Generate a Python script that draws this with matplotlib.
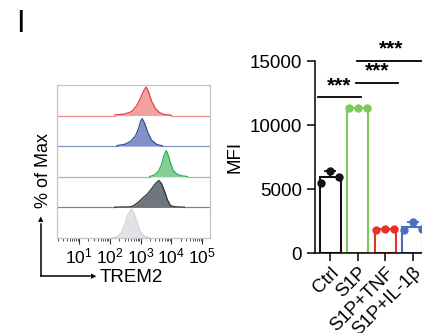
import numpy as np
import matplotlib
matplotlib.use("Agg")
import matplotlib.pyplot as plt

plt.rcParams['font.family'] = ['Liberation Sans', 'DejaVu Sans']
plt.rcParams['mathtext.fontset'] = 'custom'
plt.rcParams['mathtext.rm'] = 'Liberation Sans'
plt.rcParams['mathtext.it'] = 'Liberation Sans'

# ---- flow histograms (x in log10 units, height as fraction of lane) ----
gray_x = [2.10, 2.26, 2.39, 2.48, 2.58, 2.70, 2.77, 2.87, 2.97, 3.10, 3.29]
gray_y = [0.01, 0.06, 0.20, 0.45, 0.75, 0.95, 0.85, 0.55, 0.25, 0.07, 0.01]
dark_x = [2.16, 2.65, 2.77, 2.90, 3.06, 3.23, 3.35, 3.48, 3.59, 3.68, 3.77, 3.87, 3.97, 4.13, 4.42]
dark_y = [0.01, 0.02, 0.06, 0.15, 0.30, 0.45, 0.60, 0.78, 0.88, 0.78, 0.55, 0.25, 0.06, 0.02, 0.01]
green_x = [3.29, 3.45, 3.58, 3.68, 3.76, 3.83, 3.90, 3.97, 4.06, 4.19, 4.35, 4.52]
green_y = [0.01, 0.06, 0.18, 0.40, 0.70, 0.86, 0.70, 0.45, 0.20, 0.08, 0.03, 0.01]
blue_x = [2.23, 2.48, 2.68, 2.84, 2.94, 3.00, 3.05, 3.13, 3.23, 3.35, 3.52, 3.71]
blue_y = [0.02, 0.06, 0.16, 0.35, 0.60, 0.82, 0.90, 0.75, 0.45, 0.20, 0.06, 0.01]
red_x = [2.16, 2.48, 2.71, 2.87, 3.00, 3.10, 3.18, 3.26, 3.35, 3.48, 3.61, 3.77, 4.00]
red_y = [0.02, 0.05, 0.13, 0.32, 0.58, 0.81, 0.93, 0.77, 0.48, 0.23, 0.10, 0.03, 0.01]

hists = [(gray_x, gray_y, '#e2e2e6', '#d4d4d8'),
         (dark_x, dark_y, '#6f767e', '#2e3238'),
         (green_x, green_y, '#86cc96', '#2fb14e'),
         (blue_x, blue_y, '#8391c9', '#33509f'),
         (red_x, red_y, '#f0a2a2', '#e5413f')]

# ---- MFI bar chart ----
groups = ['Ctrl', 'S1P', 'S1P+TNF', 'S1P+IL-1β']
mfi = [[5500, 6400, 5900],
       [11300, 11350, 11350],
       [1830, 1850, 1860],
       [1820, 2450, 1850]]
bar_colors = ['#111111', '#7cc85a', '#e8302a', '#4a6fc0']
brackets = [(-0.44, 1.13, 12150, 0.34),
            (0.95, 2.47, 13250, 1.72),
            (0.98, 3.6, 15000, 2.2)]

fig = plt.figure(figsize=(4.22, 3.33), dpi=100)

# histogram panel
ax1 = fig.add_axes([0.135, 0.285, 0.363, 0.46])
xlo, xhi = 0.28, 5.26
for i, (hx, hy, fc, ec) in enumerate(hists):
    hx = np.array(hx)
    hy = np.array(hy) + i
    ax1.fill_between(hx, i, hy, color=fc, lw=0)
    ax1.plot(hx, hy, color=ec, lw=0.9)
    ax1.plot([xlo, hx[0]], [i, i], color=ec, lw=0.9, alpha=0.6)
    ax1.plot([hx[-1], xhi], [i, i], color=ec, lw=0.9, alpha=0.6)
ax1.set_xlim(xlo, xhi)
ax1.set_ylim(0, 5)
ax1.set_yticks([])
for s in ax1.spines.values():
    s.set_color('#c4c4c4')
    s.set_linewidth(0.9)
ax1.set_xticks([1, 2, 3, 4, 5])
ax1.set_xticklabels(['$10^{%d}$' % d for d in range(1, 6)], fontsize=12.5)
minor = [np.log10(k) + d for d in range(0, 6) for k in range(2, 10)]
ax1.set_xticks([m for m in minor if xlo < m < xhi], minor=True)
ax1.tick_params(axis='x', which='major', length=4, width=0.8, color='#333333', pad=2)
ax1.tick_params(axis='x', which='minor', length=2.5, width=0.6, color='#333333')

# axis arrows
fig.add_artist(plt.Line2D([41 / 422, 41 / 422], [1 - 276 / 333, 1 - 224 / 333],
                          color='black', lw=1.1))
fig.add_artist(plt.Line2D([41 / 422, 90 / 422], [1 - 276 / 333, 1 - 276 / 333],
                          color='black', lw=1.1))
fig.text(41 / 422, 1 - 219 / 333, '▲', ha='center', va='center', fontsize=5,
         family='DejaVu Sans')
fig.text(94 / 422, 1 - 276 / 333, '▶', ha='center', va='center', fontsize=5,
         family='DejaVu Sans')
fig.text(43 / 422, 1 - 171 / 333, '% of Max', rotation=90, ha='center', va='center',
         fontsize=13)
fig.text(100 / 422, 1 - 277 / 333, 'TREM2', ha='left', va='center', fontsize=13.5)
fig.text(20 / 422, 1 - 24 / 333, 'I', ha='center', va='center', fontsize=22)

# bar panel
ax2 = fig.add_axes([315 / 422, 1 - 253 / 333, 113 / 422, 192 / 333])
xs = np.arange(len(groups))
offsets = [-0.32, 0.0, 0.32]
for i, vals in enumerate(mfi):
    vals = np.array(vals, dtype=float)
    m, sd = vals.mean(), vals.std(ddof=1)
    ax2.bar(xs[i], m, width=0.76, facecolor='white', edgecolor=bar_colors[i],
            linewidth=1.5, zorder=2)
    ax2.errorbar(xs[i], m, yerr=[[0], [sd]], color=bar_colors[i], capsize=4.5,
                 elinewidth=1.3, capthick=1.3, zorder=3)
    ax2.plot(xs[i] + np.array(offsets), vals, 'o', color=bar_colors[i], ms=5,
             zorder=4, clip_on=False)
for x0, x1, y, xt in brackets:
    ax2.plot([x0, x1], [y, y], color='black', lw=1.3, clip_on=False)
    ax2.text(xt, y + 200, '***', ha='center', va='bottom', fontsize=15,
             fontweight='bold', clip_on=False)
ax2.set_xlim(-0.55, 3.55)
ax2.set_ylim(0, 15000)
ax2.set_yticks([0, 5000, 10000, 15000])
ax2.set_xticks(xs)
ax2.set_xticklabels(groups, rotation=45, ha='right', rotation_mode='anchor')
ax2.tick_params(labelsize=13.5, length=6, width=1.1)
ax2.tick_params(axis='x', pad=2)
ax2.set_ylabel('MFI', fontsize=13.5, labelpad=4)
ax2.spines['top'].set_visible(False)
ax2.spines['right'].set_visible(False)
ax2.spines['left'].set_linewidth(1.1)
ax2.spines['bottom'].set_linewidth(1.1)

fig.savefig('out.png', dpi=100)
